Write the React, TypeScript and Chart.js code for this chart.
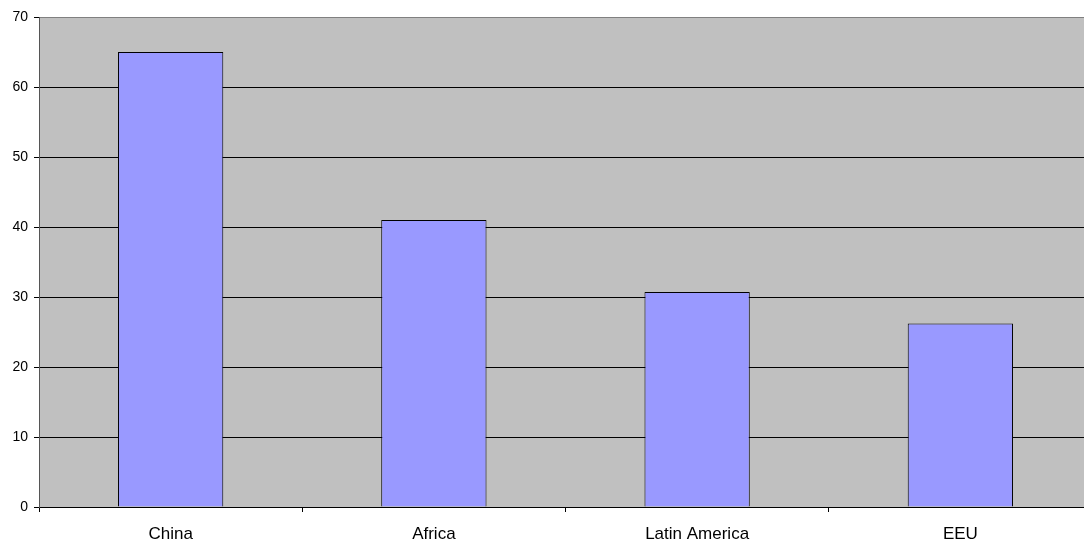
import React, { useEffect, useRef } from "react";
import { Chart, registerables } from "chart.js";

Chart.register(...registerables);

const categories = ["China", "Africa", "Latin America", "EEU"];
const values = [65, 41, 30.7, 26.2];
const yTicks = [0, 10, 20, 30, 40, 50, 60, 70];

const FONT = "Liberation Sans, Arial, sans-serif";

const bgPlugin = {
  id: "plotBg",
  beforeDraw(chart: any) {
    const { ctx, chartArea } = chart;
    if (!chartArea) return;
    ctx.save();
    ctx.fillStyle = "#C0C0C0";
    ctx.fillRect(chartArea.left, chartArea.top, chartArea.right - chartArea.left, chartArea.bottom - chartArea.top);
    ctx.restore();
  },
};

export default function App() {
  const ref = useRef<HTMLCanvasElement>(null);
  useEffect(() => {
    document.body.style.margin = "0";
    const chart = new Chart(ref.current!, {
      type: "bar",
      data: {
        labels: categories,
        datasets: [
          {
            data: values,
            backgroundColor: "#9999FF",
            borderColor: "#000000",
            borderWidth: 1,
            barPercentage: 0.4,
            categoryPercentage: 1,
          },
        ],
      },
      plugins: [bgPlugin],
      options: {
        animation: false,
        responsive: false,
        maintainAspectRatio: false,
        layout: { padding: { top: 17, right: 2, left: 0, bottom: 0 } },
        plugins: { legend: { display: false }, tooltip: { enabled: false } },
        scales: {
          x: {
            offset: true,
            grid: {
              offset: true,
              drawOnChartArea: false,
              drawTicks: true,
              tickLength: 5,
              color: "#000000",
            },
            border: { color: "#000000", width: 1 },
            ticks: {
              color: "#000000",
              font: { family: FONT, size: 17 },
              padding: 12,
              maxRotation: 0,
            },
            afterFit(scale: any) {
              scale.height = 37;
            },
          },
          y: {
            min: 0,
            max: 70,
            afterBuildTicks(scale: any) {
              scale.ticks = yTicks.map((v) => ({ value: v }));
            },
            grid: {
              color: (c: any) => (c.tick && c.tick.value === 70 ? "#808080" : "#000000"),
              tickColor: "#000000",
              tickLength: 5,
              drawTicks: true,
            },
            border: { color: "#555555", width: 1 },
            ticks: {
              color: "#000000",
              font: { family: FONT, size: 14 },
              padding: 6,
            },
            afterFit(scale: any) {
              scale.width = 39;
            },
          },
        },
      },
    });
    return () => chart.destroy();
  }, []);
  return (
    <div style={{ width: 1084, height: 544, overflow: "hidden" }}>
      <canvas ref={ref} width={1094} height={544} style={{ width: 1094, height: 544, display: "block" }} />
    </div>
  );
}
